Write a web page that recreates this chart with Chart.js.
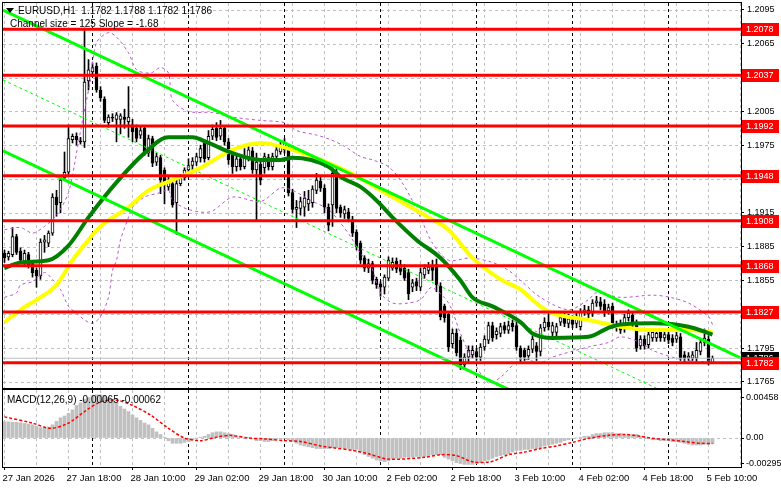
<!DOCTYPE html>
<html>
<head>
<meta charset="utf-8">
<title>EURUSD H1</title>
<script src="https://cdn.jsdelivr.net/npm/chart.js@4.4.1/dist/chart.umd.min.js"></script>
<style>
  html, body { margin: 0; padding: 0; background: #fff; }
  #wrap { position: relative; width: 781px; height: 489px; overflow: hidden; background: #fff; }
  #mainBox { position: absolute; left: 0; top: 0; width: 781px; height: 389px; }
  #macdBox { position: absolute; left: 0; top: 389px; width: 781px; height: 100px; }
</style>
</head>
<body>
<div id="wrap">
  <div id="mainBox"><canvas id="mainChart"></canvas></div>
  <div id="macdBox"><canvas id="macdChart"></canvas></div>
</div>
<script>
// H1 candles, bar 0 = 27 Jan 02:00
const opens = [
  1.1879,1.1876,1.1878,1.1894,1.1881,1.1872,1.1878,1.1870,1.1864,1.1859,
  1.1889,1.1888,1.1897,1.1929,1.1924,1.1946,1.1951,1.1980,1.1983,1.1979,
  1.1978,1.2032,1.2040,1.2045,1.2024,1.2016,1.1995,1.2000,1.1998,1.1998,
  1.2000,1.1996,1.1993,1.1990,1.1984,1.1990,1.1968,1.1981,1.1960,1.1964,
  1.1953,1.1938,1.1941,1.1924,1.1941,1.1946,1.1953,1.1957,1.1960,1.1964,
  1.1978,1.1964,1.1983,1.1990,1.1983,1.1990,1.1978,1.1966,1.1956,1.1963,
  1.1956,1.1964,1.1970,1.1953,1.1958,1.1955,1.1964,1.1956,1.1965,1.1969,
  1.1971,1.1972,1.1933,1.1918,1.1919,1.1920,1.1923,1.1924,1.1935,1.1943,
  1.1937,1.1920,1.1922,1.1950,1.1920,1.1914,1.1916,1.1909,1.1898,1.1888,
  1.1875,1.1866,1.1870,1.1856,1.1852,1.1849,1.1857,1.1866,1.1872,1.1869,
  1.1866,1.1862,1.1849,1.1854,1.1849,1.1860,1.1864,1.1867,1.1869,1.1850,
  1.1832,1.1825,1.1799,1.1808,1.1802,1.1780,1.1787,1.1789,1.1792,1.1787,
  1.1796,1.1802,1.1815,1.1807,1.1808,1.1815,1.1811,1.1817,1.1815,1.1795,
  1.1793,1.1788,1.1794,1.1797,1.1792,1.1813,1.1818,1.1809,1.1809,1.1818,
  1.1822,1.1817,1.1820,1.1817,1.1814,1.1827,1.1829,1.1826,1.1835,1.1836,
  1.1834,1.1828,1.1832,1.1816,1.1817,1.1812,1.1822,1.1824,1.1817,1.1797,
  1.1803,1.1798,1.1804,1.1804,1.1809,1.1804,1.1807,1.1804,1.1803,1.1805,
  1.1789,1.1786,1.1786,1.1786,1.1792,1.1800,1.1803,1.1782
];
const highs = [
  1.1882,1.1881,1.1902,1.1896,1.1884,1.1882,1.1880,1.1872,1.1866,1.1892,
  1.1895,1.1899,1.1932,1.1935,1.1947,1.1969,1.1993,1.1985,1.1986,1.1982,
  1.2079,1.2051,1.2048,1.2048,1.2027,1.2018,1.2002,1.2003,1.2004,1.2003,
  1.2007,1.2027,1.1998,1.1993,1.1991,1.1992,1.1984,1.1983,1.1968,1.1966,
  1.1955,1.1947,1.1944,1.1947,1.1949,1.1955,1.1963,1.1964,1.1968,1.1975,
  1.1980,1.1988,1.1993,1.1995,1.1997,1.1992,1.1981,1.1970,1.1966,1.1966,
  1.1972,1.1976,1.1973,1.1968,1.1962,1.1968,1.1967,1.1968,1.1974,1.1978,
  1.1981,1.1975,1.1936,1.1926,1.1929,1.1934,1.1935,1.1939,1.1950,1.1948,
  1.1940,1.1923,1.1955,1.1955,1.1922,1.1921,1.1919,1.1912,1.1900,1.1890,
  1.1877,1.1874,1.1872,1.1858,1.1854,1.1860,1.1876,1.1875,1.1875,1.1873,
  1.1869,1.1865,1.1856,1.1857,1.1866,1.1869,1.1871,1.1873,1.1874,1.1853,
  1.1834,1.1827,1.1812,1.1812,1.1805,1.1790,1.1797,1.1797,1.1795,1.1799,
  1.1806,1.1818,1.1818,1.1813,1.1817,1.1818,1.1819,1.1820,1.1818,1.1797,
  1.1795,1.1797,1.1806,1.1800,1.1816,1.1822,1.1826,1.1818,1.1817,1.1826,
  1.1827,1.1825,1.1824,1.1826,1.1830,1.1833,1.1832,1.1838,1.1841,1.1840,
  1.1838,1.1834,1.1835,1.1819,1.1820,1.1825,1.1829,1.1827,1.1820,1.1806,
  1.1806,1.1810,1.1812,1.1811,1.1812,1.1810,1.1810,1.1807,1.1809,1.1808,
  1.1792,1.1791,1.1792,1.1800,1.1803,1.1812,1.1806,1.1788
];
const lows = [
  1.1871,1.1873,1.1876,1.1878,1.1870,1.1869,1.1866,1.1858,1.1849,1.1856,
  1.1880,1.1885,1.1895,1.1912,1.1915,1.1944,1.1949,1.1977,1.1975,1.1976,
  1.1973,1.2024,1.2036,1.2022,1.2014,1.1995,1.1991,1.1996,1.1978,1.1985,
  1.1990,1.1982,1.1978,1.1978,1.1981,1.1966,1.1965,1.1956,1.1957,1.1932,
  1.1923,1.1935,1.1920,1.1896,1.1939,1.1944,1.1951,1.1953,1.1957,1.1960,
  1.1960,1.1962,1.1980,1.1979,1.1980,1.1975,1.1958,1.1950,1.1952,1.1953,
  1.1954,1.1961,1.1950,1.1909,1.1940,1.1950,1.1953,1.1953,1.1962,1.1967,
  1.1968,1.1930,1.1915,1.1902,1.1913,1.1912,1.1917,1.1920,1.1932,1.1934,
  1.1915,1.1899,1.1903,1.1915,1.1911,1.1910,1.1907,1.1894,1.1882,1.1870,
  1.1863,1.1862,1.1852,1.1848,1.1841,1.1843,1.1855,1.1864,1.1862,1.1860,
  1.1855,1.1838,1.1845,1.1846,1.1846,1.1857,1.1861,1.1855,1.1845,1.1820,
  1.1818,1.1792,1.1795,1.1788,1.1776,1.1776,1.1783,1.1786,1.1784,1.1784,
  1.1793,1.1799,1.1801,1.1803,1.1805,1.1808,1.1808,1.1810,1.1793,1.1783,
  1.1784,1.1785,1.1791,1.1784,1.1788,1.1810,1.1811,1.1806,1.1806,1.1815,
  1.1814,1.1813,1.1813,1.1813,1.1811,1.1824,1.1822,1.1823,1.1832,1.1829,
  1.1823,1.1825,1.1813,1.1810,1.1808,1.1809,1.1819,1.1814,1.1792,1.1794,
  1.1794,1.1795,1.1801,1.1801,1.1801,1.1801,1.1799,1.1797,1.1800,1.1784,
  1.1783,1.1784,1.1784,1.1783,1.1789,1.1797,1.1780,1.1782
];
const closes = [
  1.1875,1.1879,1.1894,1.1880,1.1873,1.1879,1.1869,1.1862,1.1859,1.1889,
  1.1891,1.1897,1.1929,1.1922,1.1944,1.1951,1.1981,1.1983,1.1980,1.1978,
  1.2031,1.2042,1.2044,1.2024,1.2017,1.1997,1.2000,1.1999,1.2002,1.2001,
  1.1998,1.2000,1.1987,1.1981,1.1988,1.1969,1.1981,1.1959,1.1965,1.1944,
  1.1942,1.1944,1.1922,1.1941,1.1947,1.1953,1.1957,1.1961,1.1965,1.1972,
  1.1963,1.1983,1.1989,1.1982,1.1990,1.1978,1.1962,1.1956,1.1963,1.1956,
  1.1964,1.1971,1.1953,1.1960,1.1944,1.1965,1.1956,1.1965,1.1971,1.1974,
  1.1977,1.1933,1.1918,1.1920,1.1925,1.1928,1.1927,1.1936,1.1944,1.1937,
  1.1920,1.1904,1.1950,1.1919,1.1915,1.1918,1.1910,1.1897,1.1885,1.1873,
  1.1866,1.1870,1.1855,1.1851,1.1849,1.1858,1.1873,1.1871,1.1865,1.1863,
  1.1857,1.1843,1.1853,1.1850,1.1862,1.1866,1.1867,1.1864,1.1851,1.1823,
  1.1822,1.1796,1.1808,1.1791,1.1780,1.1787,1.1793,1.1793,1.1787,1.1796,
  1.1803,1.1815,1.1804,1.1810,1.1814,1.1811,1.1815,1.1814,1.1796,1.1787,
  1.1787,1.1794,1.1803,1.1792,1.1813,1.1818,1.1814,1.1815,1.1814,1.1822,
  1.1817,1.1821,1.1816,1.1821,1.1827,1.1829,1.1825,1.1835,1.1837,1.1832,
  1.1827,1.1831,1.1816,1.1813,1.1811,1.1822,1.1826,1.1817,1.1795,1.1803,
  1.1797,1.1807,1.1809,1.1808,1.1804,1.1807,1.1802,1.1800,1.1806,1.1786,
  1.1786,1.1788,1.1789,1.1793,1.1800,1.1804,1.1782,1.1786
];

// indicator lines: [bar, price]
const yellowMA = [
  [0,1.1818],[4,1.1829],[9,1.1840],[13,1.1851],[17,1.1873],[21,1.1891],[24,1.1903],
  [31,1.1920],[36,1.1935],[42,1.1944],[49,1.1955],[57,1.1971],[64,1.1977],[71,1.1972],
  [85,1.1953],[97,1.1929],[106,1.1911],[111,1.1900],[117,1.1875],[124,1.1856],
  [129,1.1847],[134,1.1832],[137,1.1826],[146,1.1820],[154,1.1814],[162,1.1811],
  [171,1.1811],[177,1.1809]
];
const greenMA = [
  [0,1.1866],[4,1.1871],[11,1.1873],[16,1.1886],[21,1.1911],[28,1.1942],[35,1.1968],
  [41,1.1982],[47,1.1982],[51,1.1977],[57,1.1968],[64,1.1962],[69,1.1962],[72,1.1964],
  [81,1.1956],[84,1.1947],[89,1.1938],[93,1.1926],[97,1.1911],[103,1.1891],[109,1.1875],
  [114,1.1855],[117,1.1840],[122,1.1832],[129,1.1818],[132,1.1808],[137,1.1804],
  [146,1.1805],[151,1.1813],[154,1.1816],[162,1.1817],[171,1.1814],[177,1.1807]
];
const bandUpper = [
  [0,1.1900],[4,1.1902],[7,1.1897],[10,1.1903],[13,1.1913],[16,1.1933],[18,1.1968],
  [19.5,1.1997],[21.5,1.2033],[23,1.2066],[26,1.2075],[28,1.2071],[31,1.2057],[33,1.2042],
  [36.5,1.2039],[39,1.2044],[41,1.2039],[42,1.2015],[46,1.2005],[52,1.2004],[57,1.2000],
  [64,1.1997],[70,1.1995],[73,1.1988],[78,1.1984],[81.5,1.1980],[85,1.1974],[89,1.1965],
  [92,1.1962],[96,1.1956],[99,1.1944],[101.5,1.1929],[104,1.1911],[107,1.1888],
  [111,1.1873],[116.5,1.1875],[122,1.1871],[126,1.1864],[129,1.1855],[134,1.1840],
  [141,1.1829],[146,1.1838],[148,1.1844],[154,1.1840],[162,1.1842],[166.5,1.1840],
  [171,1.1835],[176,1.1823],[177,1.1816]
];
const bandLower = [
  [0,1.1840],[3,1.1844],[4,1.1851],[7,1.1854],[10,1.1862],[12,1.1856],[14,1.1847],
  [16,1.1832],[18,1.1826],[20,1.1820],[22,1.1817],[24,1.1823],[26,1.1840],[27,1.1864],
  [28,1.1873],[29,1.1891],[31,1.1911],[32,1.1920],[35,1.1929],[39,1.1933],[41,1.1935],
  [42,1.1926],[46,1.1918],[51.5,1.1916],[57,1.1929],[64,1.1925],[69,1.1937],[72,1.1935],
  [76.5,1.1926],[81,1.1918],[84,1.1906],[86.5,1.1894],[89,1.1879],[91.5,1.1869],
  [94,1.1844],[97,1.1835],[101,1.1835],[104,1.1838],[106,1.1847],[107,1.1849],
  [111,1.1835],[114,1.1808],[117,1.1785],[121,1.1764],[124,1.1769],[129,1.1785],
  [134,1.1782],[137,1.1787],[146,1.1796],[151,1.1800],[154,1.1805],[159,1.1800],
  [162,1.1793],[169,1.1785],[174,1.1783],[177,1.1784]
];
const channelUpper = [[-0.375,1.2095],[184.125,1.1786]];
const channelMiddle = [[-0.375,1.2033],[184.125,1.1724]];
const channelLower = [[-0.375,1.1970],[184.125,1.1661]];

const levels = [1.2078, 1.2037, 1.1992, 1.1948, 1.1908, 1.1868, 1.1827, 1.1782];
const bidPrice = 1.1786;
const priceTicks = [1.2095,1.2065,1.2035,1.2005,1.1975,1.1945,1.1915,1.1885,1.1855,1.1825,1.1795,1.1765];

// MACD(12,26,9) histogram, one per bar
const macdMain = [
  0.00185,0.00183,0.0018,0.00178,0.00172,0.00165,0.00158,0.0015,0.00135,0.00118,
  0.00114,0.00125,0.0015,0.0019,0.0023,0.0025,0.0028,0.0032,0.0037,0.0040,
  0.0044,0.0046,0.0048,0.0049,0.0049,0.0048,0.0046,0.0043,0.0040,0.0036,
  0.0033,0.0030,0.0026,0.0023,0.0020,0.0017,0.0015,0.0011,0.0007,0.0004,
  0.0001,-0.0003,-0.0006,-0.0006,-0.0006,-0.0005,-0.0004,-0.0002,0.0000,0.0001,
  0.0002,0.0004,0.0006,0.0007,0.0007,0.0006,0.0005,0.0004,0.0002,0.0001,
  0.0000,0.0000,-0.0001,-0.0003,-0.0003,-0.0004,-0.0004,-0.0003,-0.0001,-0.0001,
  -0.0001,-0.0002,-0.0004,-0.0006,-0.0008,-0.0009,-0.0010,-0.0011,-0.0012,-0.0012,
  -0.0012,-0.0012,-0.0011,-0.0011,-0.0011,-0.0012,-0.0012,-0.0013,-0.0013,-0.0016,
  -0.0019,-0.0021,-0.0023,-0.0025,-0.0026,-0.0027,-0.0026,-0.0024,-0.0023,-0.0023,
  -0.0022,-0.0022,-0.0022,-0.0021,-0.0021,-0.0021,-0.0020,-0.0019,-0.0019,-0.0019,
  -0.0022,-0.0024,-0.0026,-0.0028,-0.0029,-0.0030,-0.0030,-0.0030,-0.0029,-0.0028,
  -0.0026,-0.0025,-0.0023,-0.0021,-0.0020,-0.0019,-0.0018,-0.0016,-0.0014,-0.0014,
  -0.0013,-0.0013,-0.0012,-0.0012,-0.0011,-0.0009,-0.0008,-0.0007,-0.0006,-0.0005,
  -0.0003,-0.0002,-0.0001,0.0000,0.0001,0.0002,0.0002,0.0004,0.0005,0.0005,
  0.0006,0.0006,0.0006,0.0005,0.0005,0.0004,0.0004,0.0004,0.0004,0.0002,
  0.0001,0.0000,-0.0002,-0.0002,-0.0003,-0.0003,-0.0003,-0.0004,-0.0004,-0.0005,
  -0.0006,-0.0007,-0.0008,-0.0008,-0.0008,-0.0007,-0.0007,-0.00065
];
const macdSignal = [
  [0,0.0024],[7,0.0017],[11.5,0.0011],[16,0.0017],[20,0.0030],[24,0.0041],[28,0.0043],
  [32,0.0037],[36.5,0.0026],[41,0.0011],[45,0.0000],[49,-0.0003],[53,0.0001],[56.5,0.0003],
  [61,0.0000],[65,-0.0001],[70,-0.0003],[74,-0.0004],[79,-0.0009],[82,-0.0011],[87,-0.0014],
  [91,-0.0018],[96,-0.0024],[105,-0.0022],[109,-0.0019],[113,-0.0020],[117,-0.0027],
  [121.5,-0.0027],[126,-0.0019],[130,-0.0016],[134,-0.0012],[138,-0.0009],[142,-0.0005],
  [146.5,0.0000],[151,0.0003],[155,0.0004],[159,0.0002],[161.5,0.0000],[166,-0.0002],
  [170,-0.0004],[174,-0.0006],[177,-0.00062]
];
const macdTicks = [0.00458, 0, -0.00295];

const timeLabels = ['27 Jan 2026','27 Jan 18:00','28 Jan 10:00','29 Jan 02:00','29 Jan 18:00','30 Jan 10:00',
  '2 Feb 02:00','2 Feb 18:00','3 Feb 10:00','4 Feb 02:00','4 Feb 18:00','5 Feb 10:00'];
const labelBars = [0,16,32,48,64,80,96,112,128,144,160,176];
const daySeparators = [22,46,70,94,118,142,166];

const X_MIN = -0.375, X_MAX = 184.125;
const FONT = '"Liberation Sans", Arial, sans-serif';

Chart.defaults.font.family = FONT;
Chart.defaults.font.size = 9;
Chart.defaults.color = '#000';

const toPts = arr => arr.map(([x, y]) => ({ x, y }));
const bars = opens.map((_, i) => i);

function hline(ctx, x1, y1, x2, y2) {
  ctx.beginPath();
  ctx.moveTo(x1, y1);
  ctx.lineTo(x2, y2);
  ctx.stroke();
}

// dashed grid + day separators, like the terminal draws them
const gridPlugin = {
  id: 'mtGrid',
  beforeDatasetsDraw(chart, args, opts) {
    const { ctx, chartArea: a, scales: { x, y } } = chart;
    ctx.save();
    ctx.beginPath();
    ctx.rect(a.left, a.top, a.right - a.left, a.bottom - a.top);
    ctx.clip();
    ctx.lineWidth = 1;
    ctx.setLineDash([3, 3]);
    ctx.strokeStyle = '#c0c0c0';
    (opts.hLines || []).forEach(v => {
      const py = Math.round(y.getPixelForValue(v)) + 0.5;
      hline(ctx, a.left, py, a.right, py);
    });
    for (let b = 0; b <= X_MAX; b += 8) {
      const px = Math.floor(x.getPixelForValue(b)) + 0.5;
      hline(ctx, px, a.top, px, a.bottom);
    }
    ctx.strokeStyle = '#000';
    daySeparators.forEach(b => {
      const px = Math.floor(x.getPixelForValue(b)) + 0.5;
      hline(ctx, px, a.top, px, a.bottom);
    });
    ctx.restore();
  }
};

const framePlugin = {
  id: 'mtFrame',
  afterDraw(chart, args, opts) {
    const { ctx, chartArea: a, scales: { y } } = chart;
    ctx.save();
    ctx.strokeStyle = '#000';
    ctx.lineWidth = 1;
    ctx.strokeRect(a.left - 0.5, a.top - 0.5, a.right - a.left + 1, a.bottom - a.top + 1);

    ctx.textBaseline = 'middle';
    ctx.textAlign = 'left';
    ctx.font = '9px ' + FONT;
    (opts.boxes || []).forEach(bx => {
      const py = Math.round(y.getPixelForValue(bx.value));
      ctx.fillStyle = bx.color;
      ctx.fillRect(a.right + 1, py - 6, 37, 13);
      ctx.fillStyle = '#fff';
      ctx.fillText(bx.value.toFixed(4), a.right + 5, py + 0.5);
    });

    ctx.fillStyle = '#000';
    ctx.font = '10px ' + FONT;
    (opts.texts || []).forEach(t => ctx.fillText(t.text, t.x, t.y));
    if (opts.triangle) {
      ctx.beginPath();
      ctx.moveTo(6, 8);
      ctx.lineTo(14, 8);
      ctx.lineTo(10, 13);
      ctx.closePath();
      ctx.fill();
    }
    ctx.restore();
  }
};

const lineSet = (data, color, width, order, extra) => Object.assign({
  type: 'line', data: toPts(data), borderColor: color, borderWidth: width,
  pointRadius: 0, fill: false, order: order
}, extra || {});

const mainDatasets = [
  {
    type: 'bar', label: 'wicks', grouped: false, order: 20,
    data: bars.map(i => ({ x: i, y: [lows[i], highs[i]] })),
    backgroundColor: '#000', borderWidth: 0, barThickness: 1
  },
  {
    type: 'bar', label: 'bodies', grouped: false, order: 19,
    data: bars.map(i => ({ x: i, y: [opens[i], closes[i]] })),
    backgroundColor: bars.map(i => closes[i] >= opens[i] ? '#fff' : '#000'),
    borderColor: '#000', borderWidth: 1, borderSkipped: false,
    barThickness: 3, minBarLength: 1
  },
  lineSet(bandUpper, '#ba55d3', 1, 15, { borderDash: [3, 3], tension: 0.3 }),
  lineSet(bandLower, '#ba55d3', 1, 15, { borderDash: [3, 3], tension: 0.3 }),
  lineSet(channelMiddle, '#00ff00', 1, 14, { borderDash: [3, 3] }),
  lineSet(yellowMA, '#ffff00', 4, 12, { cubicInterpolationMode: 'monotone' }),
  lineSet(greenMA, '#008000', 4, 11, { cubicInterpolationMode: 'monotone' }),
  lineSet(channelUpper, '#00ff00', 3, 10),
  lineSet(channelLower, '#00ff00', 3, 10),
  lineSet([[X_MIN, bidPrice], [X_MAX, bidPrice]], '#c0c0c0', 1, 9)
].concat(levels.map(v => lineSet([[X_MIN, v], [X_MAX, v]], '#ff0000', 3, 5)));

const fixY = s => { s.width = 40; s.paddingTop = 0; s.paddingBottom = 0; };

new Chart(document.getElementById('mainChart'), {
  type: 'bar',
  data: { datasets: mainDatasets },
  options: {
    responsive: true, maintainAspectRatio: false, animation: false,
    layout: { padding: { left: 3, top: 3, right: 0, bottom: 1 } },
    plugins: {
      legend: { display: false }, tooltip: { enabled: false },
      mtGrid: { hLines: priceTicks },
      mtFrame: {
        boxes: [{ value: bidPrice, color: '#000' }].concat(levels.map(v => ({ value: v, color: '#ff0000' }))),
        texts: [
          { text: 'EURUSD,H1  1.1782 1.1788 1.1782 1.1786', x: 18, y: 11 },
          { text: 'Channel size = 125 Slope = -1.68', x: 10, y: 24 }
        ],
        triangle: true
      }
    },
    scales: {
      x: { type: 'linear', min: X_MIN, max: X_MAX, offset: false, display: false, grid: { offset: false } },
      y: {
        position: 'right', min: 1.17596, max: 1.21012,
        afterBuildTicks: s => { s.ticks = priceTicks.map(v => ({ value: v })); },
        afterFit: fixY,
        ticks: { autoSkip: false, padding: 3, callback: v => v.toFixed(4) },
        grid: { drawOnChartArea: false, drawTicks: true, tickLength: 3, tickColor: '#000' },
        border: { display: false }
      }
    }
  },
  plugins: [gridPlugin, framePlugin]
});

new Chart(document.getElementById('macdChart'), {
  type: 'bar',
  data: {
    datasets: [
      {
        type: 'bar', label: 'MACD', order: 5,
        data: bars.map(i => ({ x: i, y: macdMain[i] })),
        backgroundColor: '#c0c0c0', borderWidth: 0, barThickness: 3
      },
      lineSet(macdSignal, '#ff0000', 1.5, 1, { borderDash: [3, 2], tension: 0.3 })
    ]
  },
  options: {
    responsive: true, maintainAspectRatio: false, animation: false,
    layout: { padding: { left: 3, top: 1, right: 0, bottom: 0 } },
    plugins: {
      legend: { display: false }, tooltip: { enabled: false },
      mtGrid: { hLines: [0] },
      mtFrame: { texts: [{ text: 'MACD(12,26,9) -0.00065 -0.00062', x: 7, y: 11 }] }
    },
    scales: {
      x: {
        type: 'linear', min: X_MIN, max: X_MAX, offset: false,
        afterBuildTicks: s => { s.ticks = labelBars.map(v => ({ value: v })); },
        afterFit: s => { s.height = 22; s.paddingLeft = 0; s.paddingRight = 0; },
        ticks: {
          autoSkip: false, maxRotation: 0, align: 'start', padding: 3, labelOffset: -2,
          font: { size: 9.5 },
          callback: v => timeLabels[labelBars.indexOf(v)]
        },
        grid: { offset: false, drawOnChartArea: false, drawTicks: true, tickLength: 3, tickColor: '#000' },
        border: { display: false }
      },
      y: {
        position: 'right', min: -0.003295, max: 0.005455,
        afterBuildTicks: s => { s.ticks = macdTicks.map(v => ({ value: v })); },
        afterFit: fixY,
        ticks: { autoSkip: false, padding: 2, callback: v => v === 0 ? '0.00' : v.toFixed(5) },
        grid: { drawOnChartArea: false, drawTicks: true, tickLength: 3, tickColor: '#000' },
        border: { display: false }
      }
    }
  },
  plugins: [gridPlugin, framePlugin]
});
</script>
</body>
</html>
